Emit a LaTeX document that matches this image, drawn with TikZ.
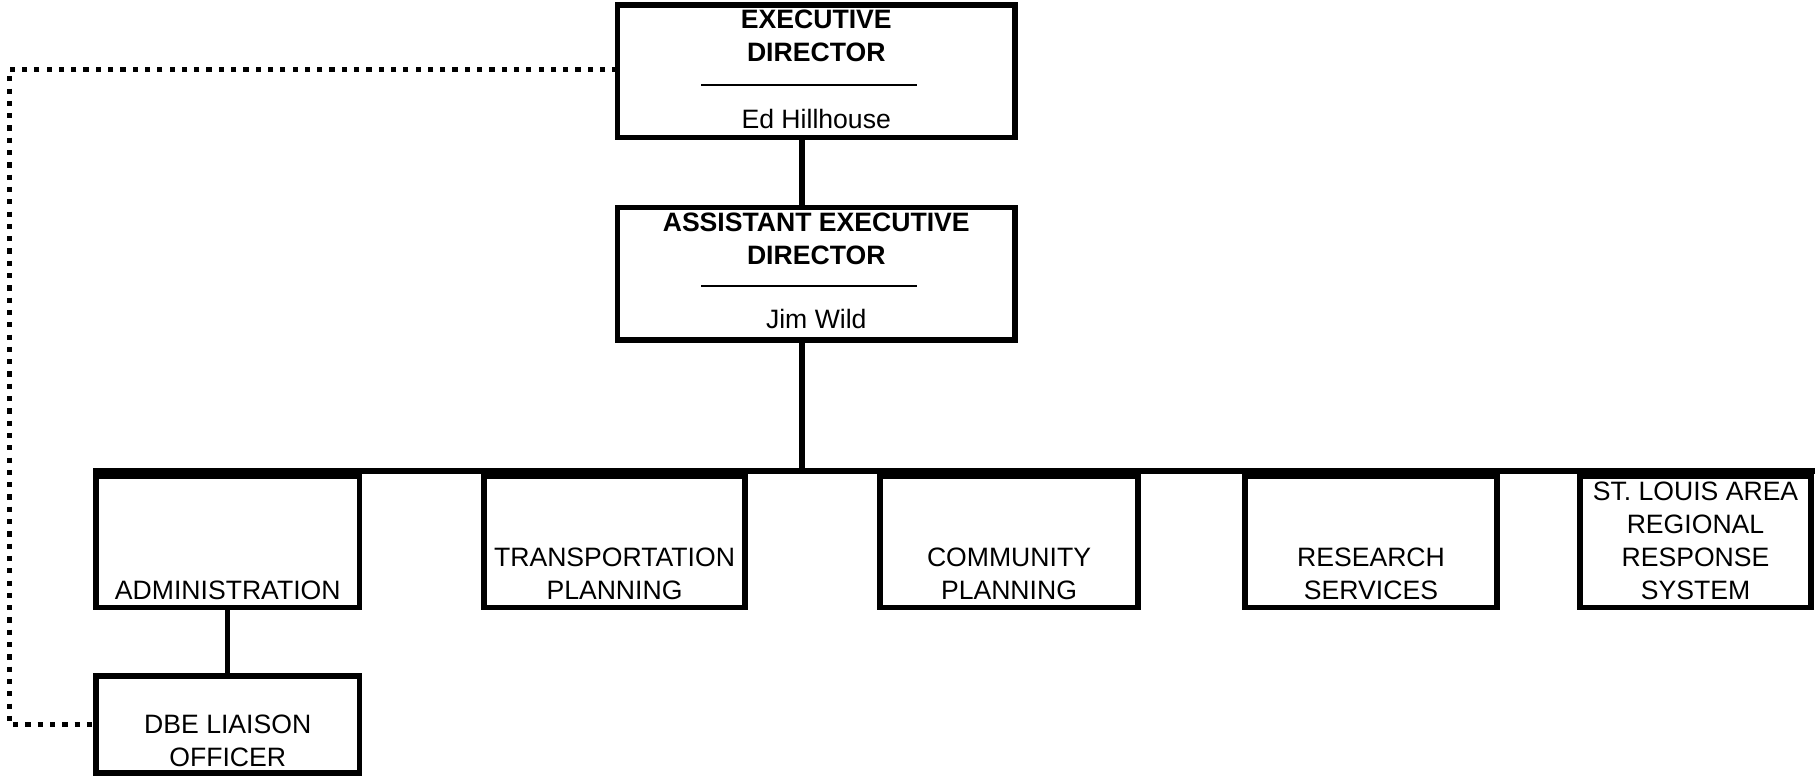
\documentclass[tikz,border=0pt]{standalone}
\usepackage{fontspec}
\setmainfont{Liberation Sans}
\begin{document}
\begin{tikzpicture}[x=0.5pt,y=-0.5pt,
  box/.style={draw=black,line width=2.6pt,inner sep=0pt,outer sep=0pt,fill=none},
  lbl/.style={inner sep=0pt,align=center,anchor=south,font=\fontsize{13.3}{16.5}\selectfont},
  blbl/.style={lbl,font=\fontsize{13.3}{16.5}\selectfont\bfseries},
  conn/.style={draw=black,line width=2.6pt},
  rulel/.style={draw=black,line width=1.3pt},
  dotline/.style={draw=black,line width=2.6pt,dash pattern=on 2.6pt off 3.55pt}]
\useasboundingbox[fill=white] (0,0) rectangle (1815,779);
% top boxes
\node[box,minimum width=198.75pt,minimum height=66.25pt] (exec) at (816.25,71.25) {};
\node[blbl] (execT) at (816.25,62.3) {EXECUTIVE\\DIRECTOR};
\coordinate (execRL) at (701,85);
\coordinate (execRR) at (917,85);
\draw[rulel] (execRL) -- (execRR);
\node[lbl] (execN) at (816.25,129) {Ed Hillhouse};
\node[box,minimum width=198.75pt,minimum height=66.25pt] (asst) at (816.25,273.75) {};
\node[blbl] (asstT) at (816.25,265) {ASSISTANT EXECUTIVE\\DIRECTOR};
\coordinate (asstRL) at (701,286);
\coordinate (asstRR) at (917,286);
\draw[rulel] (asstRL) -- (asstRR);
\node[lbl] (asstN) at (816.25,329) {Jim Wild};
% bus
\coordinate (spine) at (802,471);
\coordinate (busL) at (93,471);
\coordinate (busR) at (1815,471);
\draw[conn] (exec.south -| spine) -- (asst.north -| spine);
\draw[conn] (asst.south -| spine) -- (spine);
\draw[conn] (busL) -- (busR);
% departments
\node[box,minimum width=131.75pt,minimum height=65.75pt] (adm) at (227.75,541.75) {};
\node[lbl] (admT) at (227.75,600) {ADMINISTRATION};
\node[box,minimum width=130.5pt,minimum height=65.75pt] (trn) at (614.5,541.75) {};
\node[lbl] (trnT) at (614.5,600) {TRANSPORTATION\\PLANNING};
\node[box,minimum width=129pt,minimum height=65.75pt] (com) at (1009,541.75) {};
\node[lbl] (comT) at (1009,600) {COMMUNITY\\PLANNING};
\node[box,minimum width=126pt,minimum height=65.75pt] (res) at (1371,541.75) {};
\node[lbl] (resT) at (1371,600) {RESEARCH\\SERVICES};
\node[box,minimum width=115.5pt,minimum height=65.75pt] (stl) at (1695.5,541.75) {};
\node[lbl] (stlT) at (1695.5,600) {ST. LOUIS AREA\\REGIONAL\\RESPONSE\\SYSTEM};
% DBE
\node[box,minimum width=131.75pt,minimum height=48.5pt] (dbe) at (227.75,724.5) {};
\node[lbl] (dbeT) at (227.75,767) {DBE LIAISON\\OFFICER};
\draw[conn] (adm) -- (dbe);
% dotted reporting line
\coordinate (dotX) at (9.5,0);
\coordinate (dotS) at ([yshift=1pt]exec.west);
\draw[dotline] (dotS) -- (dotS -| dotX) |- (dbe.west);
\end{tikzpicture}
\end{document}
